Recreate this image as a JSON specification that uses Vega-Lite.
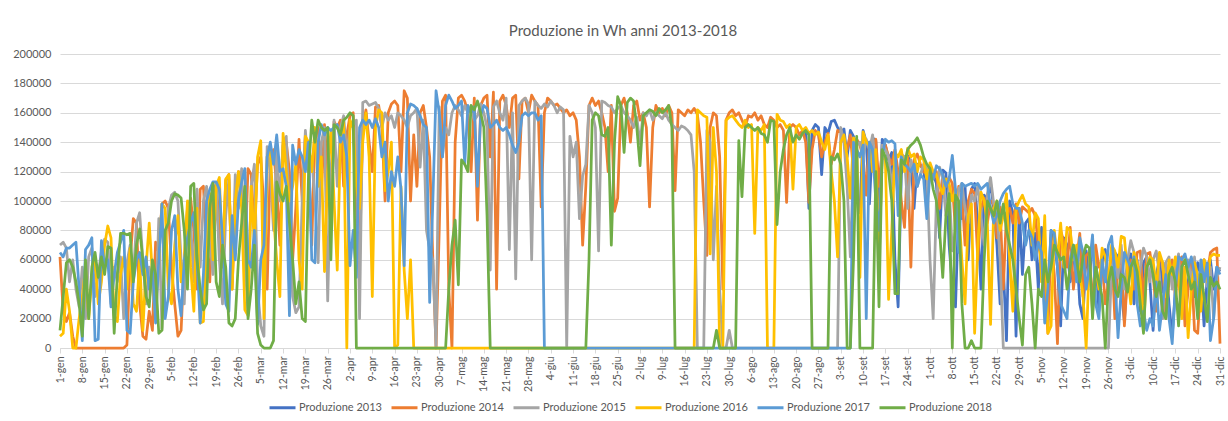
{
"$schema":"https://vega.github.io/schema/vega-lite/v6.json",
"autosize":{"type":"none"},
"width":1160,"height":294,
"padding":{"left":60,"top":54,"right":8,"bottom":73},
"background":"white",
"config":{"view":{"stroke":null},"font":"Lato"},
"title":{"text":"Produzione in Wh anni 2013-2018","anchor":"middle","dx":-17,"offset":9,"fontSize":15,"font":"Lato","fontWeight":"normal","color":"#595959"},
"data":{"values":[
{"t":0,"b":62000,"c":70000,"d":8000,"e":65000,"f":12000},
{"t":1,"b":25000,"c":72000,"d":10000,"e":62000,"f":35000},
{"t":2,"b":18000,"c":68000,"d":40000,"e":68000,"f":58000},
{"t":3,"b":24000,"c":45000,"d":25000,"e":68000,"f":60000},
{"t":4,"b":8000,"c":60000,"d":0,"e":70000,"f":55000},
{"t":5,"b":0,"c":40000,"d":0,"e":72000,"f":45000},
{"t":6,"b":0,"c":28000,"d":20000,"e":40000,"f":30000},
{"t":7,"b":0,"c":55000,"d":35000,"e":5000,"f":8000},
{"t":8,"b":0,"c":20000,"d":55000,"e":67000,"f":60000},
{"t":9,"b":0,"c":62000,"d":20000,"e":70000,"f":20000},
{"t":10,"b":0,"c":68000,"d":48000,"e":75000,"f":55000},
{"t":11,"b":0,"c":35000,"d":60000,"e":5000,"f":65000},
{"t":12,"b":0,"c":50000,"d":30000,"e":6000,"f":48000},
{"t":13,"b":0,"c":66000,"d":45000,"e":73000,"f":62000},
{"t":14,"b":0,"c":74000,"d":70000,"e":55000,"f":50000},
{"t":15,"b":0,"c":72000,"d":83000,"e":60000,"f":69000},
{"t":16,"b":0,"c":30000,"d":75000,"e":28000,"f":68000},
{"t":17,"b":0,"c":55000,"d":22000,"e":50000,"f":10000},
{"t":18,"b":0,"c":45000,"d":18000,"e":65000,"f":50000},
{"t":19,"b":0,"c":62000,"d":50000,"e":72000,"f":78000},
{"t":20,"b":0,"c":20000,"d":62000,"e":80000,"f":78000},
{"t":21,"b":2000,"c":58000,"d":40000,"e":12000,"f":77000},
{"t":22,"b":60000,"c":70000,"d":68000,"e":10000,"f":78000},
{"t":23,"b":88000,"c":48000,"d":30000,"e":45000,"f":45000},
{"t":24,"b":85000,"c":85000,"d":25000,"e":60000,"f":70000},
{"t":25,"b":30000,"c":92000,"d":60000,"e":65000,"f":81000},
{"t":26,"b":8000,"c":60000,"d":12000,"e":50000,"f":60000},
{"t":27,"b":6000,"c":30000,"d":55000,"e":62000,"f":35000},
{"t":28,"b":25000,"c":55000,"d":85000,"e":40000,"f":28000},
{"t":29,"b":12000,"c":40000,"d":50000,"e":55000,"f":60000},
{"t":30,"b":72000,"c":22000,"d":20000,"e":17000,"f":50000},
{"t":31,"b":65000,"c":88000,"d":60000,"e":60000,"f":10000},
{"t":32,"b":98000,"c":13000,"d":98000,"e":98000,"f":12000},
{"t":33,"b":100000,"c":70000,"d":95000,"e":20000,"f":80000},
{"t":34,"b":95000,"c":95000,"d":40000,"e":35000,"f":85000},
{"t":35,"b":55000,"c":104000,"d":30000,"e":80000,"f":100000},
{"t":36,"b":30000,"c":106000,"d":70000,"e":90000,"f":105000},
{"t":37,"b":8000,"c":100000,"d":90000,"e":40000,"f":104000},
{"t":38,"b":12000,"c":60000,"d":45000,"e":22000,"f":102000},
{"t":39,"b":60000,"c":30000,"d":60000,"e":60000,"f":80000},
{"t":40,"b":95000,"c":95000,"d":100000,"e":75000,"f":40000},
{"t":41,"b":102000,"c":85000,"d":55000,"e":85000,"f":110000},
{"t":42,"b":80000,"c":45000,"d":25000,"e":92000,"f":112000},
{"t":43,"b":40000,"c":108000,"d":95000,"e":60000,"f":60000},
{"t":44,"b":108000,"c":55000,"d":17000,"e":17000,"f":40000},
{"t":45,"b":110000,"c":100000,"d":18000,"e":50000,"f":26000},
{"t":46,"b":70000,"c":110000,"d":70000,"e":100000,"f":30000},
{"t":47,"b":45000,"c":75000,"d":105000,"e":108000,"f":95000},
{"t":48,"b":105000,"c":50000,"d":60000,"e":113000,"f":112000},
{"t":49,"b":112000,"c":112000,"d":110000,"e":113000,"f":45000},
{"t":50,"b":85000,"c":60000,"d":116000,"e":108000,"f":35000},
{"t":51,"b":55000,"c":30000,"d":60000,"e":73000,"f":70000},
{"t":52,"b":114000,"c":90000,"d":115000,"e":30000,"f":55000},
{"t":53,"b":118000,"c":115000,"d":118000,"e":25000,"f":17000},
{"t":54,"b":40000,"c":45000,"d":40000,"e":90000,"f":15000},
{"t":55,"b":95000,"c":118000,"d":100000,"e":60000,"f":20000},
{"t":56,"b":120000,"c":95000,"d":120000,"e":100000,"f":60000},
{"t":57,"b":110000,"c":122000,"d":95000,"e":113000,"f":85000},
{"t":58,"b":60000,"c":60000,"d":26000,"e":122000,"f":110000},
{"t":59,"b":122000,"c":24000,"d":22000,"e":60000,"f":20000},
{"t":60,"b":118000,"c":110000,"d":110000,"e":55000,"f":40000},
{"t":61,"b":80000,"c":125000,"d":70000,"e":80000,"f":70000},
{"t":62,"b":125000,"c":40000,"d":130000,"e":16000,"f":10000},
{"t":63,"b":130000,"c":15000,"d":141000,"e":60000,"f":2000},
{"t":64,"b":95000,"c":8000,"d":20000,"e":70000,"f":0},
{"t":65,"b":40000,"c":137000,"d":130000,"e":130000,"f":0},
{"t":66,"b":128000,"c":120000,"d":135000,"e":140000,"f":0},
{"t":67,"b":135000,"c":80000,"d":90000,"e":125000,"f":5000},
{"t":68,"b":110000,"c":135000,"d":60000,"e":145000,"f":113000},
{"t":69,"b":70000,"c":100000,"d":35000,"e":120000,"f":105000},
{"t":70,"b":138000,"c":140000,"d":146000,"e":122000,"f":100000},
{"t":71,"b":140000,"c":144000,"d":120000,"e":110000,"f":110000},
{"t":72,"b":120000,"c":90000,"d":100000,"e":22000,"f":85000},
{"t":73,"b":60000,"c":35000,"d":110000,"e":138000,"f":60000},
{"t":74,"b":95000,"c":24000,"d":125000,"e":125000,"f":30000},
{"t":75,"b":142000,"c":28000,"d":60000,"e":135000,"f":45000},
{"t":76,"b":100000,"c":100000,"d":40000,"e":130000,"f":20000},
{"t":77,"b":145000,"c":148000,"d":144000,"e":120000,"f":18000},
{"t":78,"b":130000,"c":120000,"d":140000,"e":140000,"f":120000},
{"t":79,"b":70000,"c":130000,"d":120000,"e":60000,"f":155000},
{"t":80,"b":148000,"c":100000,"d":150000,"e":58000,"f":140000},
{"t":81,"b":150000,"c":58000,"d":110000,"e":140000,"f":155000},
{"t":82,"b":105000,"c":140000,"d":130000,"e":152000,"f":150000},
{"t":83,"b":152000,"c":150000,"d":52000,"e":145000,"f":148000},
{"t":84,"b":120000,"c":32000,"d":120000,"e":150000,"f":150000},
{"t":85,"b":80000,"c":120000,"d":148000,"e":148000,"f":60000},
{"t":86,"b":154000,"c":155000,"d":100000,"e":150000,"f":152000},
{"t":87,"b":150000,"c":110000,"d":53000,"e":152000,"f":150000},
{"t":88,"b":155000,"c":150000,"d":140000,"e":140000,"f":145000},
{"t":89,"b":110000,"c":158000,"d":155000,"e":145000,"f":155000},
{"t":90,"b":145000,"c":130000,"d":0,"e":130000,"f":157000},
{"t":91,"b":158000,"c":150000,"d":155000,"e":56000,"f":160000},
{"t":92,"b":160000,"c":152000,"d":150000,"e":80000,"f":158000},
{"t":93,"b":95000,"c":155000,"d":110000,"e":48000,"f":0},
{"t":94,"b":60000,"c":20000,"d":95000,"e":150000,"f":0},
{"t":95,"b":150000,"c":167000,"d":140000,"e":155000,"f":0},
{"t":96,"b":162000,"c":168000,"d":160000,"e":152000,"f":0},
{"t":97,"b":140000,"c":165000,"d":130000,"e":155000,"f":0},
{"t":98,"b":120000,"c":166000,"d":35000,"e":150000,"f":0},
{"t":99,"b":164000,"c":167000,"d":150000,"e":156000,"f":0},
{"t":100,"b":165000,"c":163000,"d":162000,"e":150000,"f":0},
{"t":101,"b":150000,"c":150000,"d":160000,"e":130000,"f":0},
{"t":102,"b":100000,"c":160000,"d":107000,"e":140000,"f":0},
{"t":103,"b":160000,"c":155000,"d":120000,"e":100000,"f":0},
{"t":104,"b":166000,"c":158000,"d":140000,"e":120000,"f":0},
{"t":105,"b":168000,"c":150000,"d":0,"e":110000,"f":0},
{"t":106,"b":165000,"c":160000,"d":2000,"e":130000,"f":0},
{"t":107,"b":120000,"c":158000,"d":110000,"e":108000,"f":0},
{"t":108,"b":175000,"c":155000,"d":53000,"e":56000,"f":0},
{"t":109,"b":170000,"c":150000,"d":20000,"e":160000,"f":0},
{"t":110,"b":100000,"c":158000,"d":60000,"e":166000,"f":0},
{"t":111,"b":145000,"c":160000,"d":0,"e":165000,"f":0},
{"t":112,"b":110000,"c":163000,"d":0,"e":163000,"f":0},
{"t":113,"b":160000,"c":123000,"d":0,"e":158000,"f":0},
{"t":114,"b":165000,"c":155000,"d":0,"e":152000,"f":0},
{"t":115,"b":150000,"c":80000,"d":0,"e":150000,"f":0},
{"t":116,"b":130000,"c":67000,"d":0,"e":31000,"f":0},
{"t":117,"b":60000,"c":60000,"d":0,"e":100000,"f":0},
{"t":118,"b":0,"c":0,"d":0,"e":175000,"f":0},
{"t":119,"b":80000,"c":164000,"d":0,"e":160000,"f":0},
{"t":120,"b":168000,"c":130000,"d":0,"e":130000,"f":0},
{"t":121,"b":172000,"c":150000,"d":0,"e":165000,"f":0},
{"t":122,"b":40000,"c":145000,"d":0,"e":172000,"f":40000},
{"t":123,"b":0,"c":160000,"d":0,"e":168000,"f":70000},
{"t":124,"b":140000,"c":165000,"d":0,"e":163000,"f":87000},
{"t":125,"b":170000,"c":162000,"d":0,"e":165000,"f":43000},
{"t":126,"b":172000,"c":158000,"d":0,"e":168000,"f":128000},
{"t":127,"b":168000,"c":165000,"d":0,"e":125000,"f":125000},
{"t":128,"b":160000,"c":160000,"d":0,"e":165000,"f":120000},
{"t":129,"b":120000,"c":162000,"d":0,"e":160000,"f":165000},
{"t":130,"b":170000,"c":155000,"d":0,"e":164000,"f":162000},
{"t":131,"b":87000,"c":158000,"d":0,"e":110000,"f":168000},
{"t":132,"b":165000,"c":166000,"d":0,"e":158000,"f":160000},
{"t":133,"b":170000,"c":160000,"d":0,"e":165000,"f":150000},
{"t":134,"b":172000,"c":150000,"d":0,"e":163000,"f":90000},
{"t":135,"b":130000,"c":53000,"d":0,"e":150000,"f":0},
{"t":136,"b":174000,"c":164000,"d":0,"e":152000,"f":0},
{"t":137,"b":40000,"c":168000,"d":0,"e":155000,"f":0},
{"t":138,"b":168000,"c":160000,"d":0,"e":150000,"f":0},
{"t":139,"b":172000,"c":155000,"d":0,"e":148000,"f":0},
{"t":140,"b":165000,"c":170000,"d":0,"e":150000,"f":0},
{"t":141,"b":150000,"c":67000,"d":0,"e":145000,"f":0},
{"t":142,"b":170000,"c":160000,"d":0,"e":138000,"f":0},
{"t":143,"b":172000,"c":47000,"d":0,"e":133000,"f":0},
{"t":144,"b":115000,"c":165000,"d":0,"e":140000,"f":0},
{"t":145,"b":168000,"c":168000,"d":0,"e":158000,"f":0},
{"t":146,"b":170000,"c":170000,"d":0,"e":160000,"f":0},
{"t":147,"b":160000,"c":166000,"d":0,"e":158000,"f":0},
{"t":148,"b":172000,"c":60000,"d":0,"e":160000,"f":0},
{"t":149,"b":168000,"c":168000,"d":0,"e":160000,"f":0},
{"t":150,"b":165000,"c":165000,"d":0,"e":155000,"f":0},
{"t":151,"b":96000,"c":163000,"d":0,"e":158000,"f":0},
{"t":152,"b":160000,"c":166000,"d":0,"e":0,"f":0},
{"t":153,"b":170000,"c":164000,"d":0,"e":0,"f":0},
{"t":154,"b":168000,"c":168000,"d":0,"e":0,"f":0},
{"t":155,"b":165000,"c":165000,"d":0,"e":0,"f":0},
{"t":156,"b":166000,"c":160000,"d":0,"e":0,"f":0},
{"t":157,"b":163000,"c":164000,"d":0,"e":0,"f":0},
{"t":158,"b":160000,"c":162000,"d":0,"e":0,"f":0},
{"t":159,"b":162000,"c":0,"d":0,"e":0,"f":0},
{"t":160,"b":158000,"c":144000,"d":0,"e":0,"f":0},
{"t":161,"b":160000,"c":130000,"d":0,"e":0,"f":0},
{"t":162,"b":155000,"c":140000,"d":0,"e":0,"f":0},
{"t":163,"b":130000,"c":88000,"d":0,"e":0,"f":0},
{"t":164,"b":70000,"c":117000,"d":0,"e":0,"f":0},
{"t":165,"b":110000,"c":125000,"d":0,"e":0,"f":0},
{"t":166,"b":165000,"c":165000,"d":0,"e":0,"f":60000},
{"t":167,"b":170000,"c":160000,"d":0,"e":0,"f":155000},
{"t":168,"b":165000,"c":150000,"d":0,"e":0,"f":160000},
{"t":169,"b":168000,"c":66000,"d":0,"e":0,"f":158000},
{"t":170,"b":160000,"c":168000,"d":0,"e":0,"f":145000},
{"t":171,"b":150000,"c":167000,"d":0,"e":0,"f":144000},
{"t":172,"b":120000,"c":165000,"d":0,"e":0,"f":150000},
{"t":173,"b":165000,"c":164000,"d":0,"e":0,"f":70000},
{"t":174,"b":93000,"c":160000,"d":0,"e":0,"f":140000},
{"t":175,"b":102000,"c":163000,"d":0,"e":0,"f":171000},
{"t":176,"b":165000,"c":165000,"d":0,"e":0,"f":165000},
{"t":177,"b":170000,"c":160000,"d":0,"e":0,"f":133000},
{"t":178,"b":160000,"c":158000,"d":0,"e":0,"f":167000},
{"t":179,"b":140000,"c":155000,"d":0,"e":0,"f":170000},
{"t":180,"b":165000,"c":150000,"d":0,"e":0,"f":168000},
{"t":181,"b":168000,"c":157000,"d":0,"e":0,"f":150000},
{"t":182,"b":155000,"c":139000,"d":0,"e":0,"f":124000},
{"t":183,"b":160000,"c":160000,"d":0,"e":0,"f":158000},
{"t":184,"b":150000,"c":158000,"d":0,"e":0,"f":160000},
{"t":185,"b":96000,"c":162000,"d":0,"e":0,"f":162000},
{"t":186,"b":150000,"c":155000,"d":0,"e":0,"f":161000},
{"t":187,"b":165000,"c":160000,"d":0,"e":0,"f":158000},
{"t":188,"b":160000,"c":158000,"d":0,"e":0,"f":163000},
{"t":189,"b":163000,"c":156000,"d":0,"e":0,"f":160000},
{"t":190,"b":158000,"c":160000,"d":0,"e":0,"f":162000},
{"t":191,"b":165000,"c":155000,"d":0,"e":0,"f":165000},
{"t":192,"b":160000,"c":152000,"d":0,"e":0,"f":150000},
{"t":193,"b":107000,"c":150000,"d":0,"e":0,"f":0},
{"t":194,"b":162000,"c":148000,"d":0,"e":0,"f":0},
{"t":195,"b":160000,"c":151000,"d":0,"e":0,"f":0},
{"t":196,"b":158000,"c":150000,"d":0,"e":0,"f":0},
{"t":197,"b":162000,"c":148000,"d":0,"e":0,"f":0},
{"t":198,"b":160000,"c":145000,"d":0,"e":0,"f":0},
{"t":199,"b":163000,"c":120000,"d":0,"e":0,"f":0},
{"t":200,"b":159000,"c":0,"d":162000,"e":0,"f":0},
{"t":201,"b":140000,"c":0,"d":160000,"e":0,"f":0},
{"t":202,"b":100000,"c":0,"d":158000,"e":0,"f":0},
{"t":203,"b":63000,"c":148000,"d":157000,"e":0,"f":0},
{"t":204,"b":150000,"c":140000,"d":64000,"e":0,"f":0},
{"t":205,"b":160000,"c":60000,"d":150000,"e":0,"f":0},
{"t":206,"b":158000,"c":110000,"d":120000,"e":0,"f":12000},
{"t":207,"b":130000,"c":40000,"d":0,"e":0,"f":0},
{"t":208,"b":40000,"c":0,"d":0,"e":0,"f":0},
{"t":209,"b":155000,"c":0,"d":155000,"e":0,"f":0},
{"t":210,"b":160000,"c":12000,"d":157000,"e":0,"f":0},
{"t":211,"b":162000,"c":0,"d":158000,"e":0,"f":0},
{"t":212,"b":158000,"c":0,"d":155000,"e":0,"f":0},
{"t":213,"b":160000,"c":0,"d":152000,"e":0,"f":141000},
{"t":214,"b":155000,"c":0,"d":150000,"e":0,"f":103000},
{"t":215,"b":150000,"c":0,"d":155000,"e":0,"f":150000},
{"t":216,"b":158000,"c":0,"d":150000,"e":0,"f":152000},
{"t":217,"b":157000,"c":0,"d":152000,"e":0,"f":150000},
{"t":218,"b":160000,"c":0,"d":78000,"e":0,"f":148000},
{"t":219,"b":155000,"c":0,"d":150000,"e":0,"f":150000},
{"t":220,"b":158000,"c":0,"d":148000,"e":0,"f":146000},
{"t":221,"b":152000,"c":0,"d":152000,"e":0,"f":145000},
{"t":222,"b":150000,"c":0,"d":0,"e":0,"f":140000},
{"t":223,"b":157000,"c":0,"d":0,"e":0,"f":155000},
{"t":224,"b":155000,"c":0,"d":0,"e":0,"f":154000},
{"t":225,"b":150000,"c":0,"d":159000,"e":0,"f":84000},
{"t":226,"b":152000,"c":0,"d":155000,"e":0,"f":120000},
{"t":227,"b":148000,"c":0,"d":154000,"e":0,"f":135000},
{"t":228,"b":99000,"c":0,"d":150000,"e":0,"f":145000},
{"t":229,"b":150000,"c":0,"d":152000,"e":0,"f":150000},
{"t":230,"b":152000,"c":0,"d":108000,"e":0,"f":140000},
{"t":231,"b":150000,"c":0,"d":150000,"e":0,"f":145000},
{"t":232,"b":145000,"c":0,"d":152000,"e":0,"f":142000},
{"t":233,"b":148000,"c":0,"d":148000,"e":0,"f":146000},
{"t":234,"a":150000,"b":140000,"c":0,"d":150000,"e":0,"f":148000},
{"t":235,"a":95000,"b":99000,"c":0,"d":146000,"e":0,"f":145000},
{"t":236,"a":148000,"b":135000,"c":0,"d":148000,"e":0,"f":0},
{"t":237,"a":152000,"b":148000,"c":0,"d":145000,"e":0,"f":0},
{"t":238,"a":150000,"b":145000,"c":0,"d":147000,"e":0,"f":0},
{"t":239,"a":118000,"b":130000,"c":0,"d":140000,"e":0,"f":0},
{"t":240,"a":150000,"b":140000,"c":0,"d":135000,"e":0,"f":0},
{"t":241,"a":146000,"b":146000,"c":0,"d":145000,"e":0,"f":0},
{"t":242,"a":154000,"b":125000,"c":0,"d":120000,"e":0,"f":130000},
{"t":243,"a":155000,"b":135000,"c":0,"d":100000,"e":0,"f":128000},
{"t":244,"a":150000,"b":148000,"c":0,"d":62000,"e":0,"f":132000},
{"t":245,"a":147000,"b":147000,"c":150000,"d":140000,"e":0,"f":125000},
{"t":246,"a":149000,"b":140000,"c":140000,"d":145000,"e":0,"f":100000},
{"t":247,"a":130000,"b":135000,"c":110000,"d":130000,"e":0,"f":0},
{"t":248,"a":148000,"b":145000,"c":62000,"d":102000,"e":0,"f":0},
{"t":249,"a":144000,"b":120000,"c":125000,"d":143000,"e":140000,"f":60000},
{"t":250,"a":105000,"b":142000,"c":138000,"d":140000,"e":135000,"f":144000},
{"t":251,"a":92000,"b":138000,"c":140000,"d":48000,"e":130000,"f":0},
{"t":252,"a":148000,"b":130000,"c":130000,"d":147000,"e":138000,"f":0},
{"t":253,"a":140000,"b":104000,"c":142000,"d":140000,"e":20000,"f":0},
{"t":254,"a":98000,"b":140000,"c":135000,"d":138000,"e":140000,"f":0},
{"t":255,"a":143000,"b":138000,"c":145000,"d":120000,"e":135000,"f":0},
{"t":256,"a":141000,"b":142000,"c":120000,"d":135000,"e":100000,"f":120000},
{"t":257,"a":88000,"b":110000,"c":53000,"d":60000,"e":80000,"f":28000},
{"t":258,"a":142000,"b":135000,"c":138000,"d":130000,"e":130000,"f":135000},
{"t":259,"a":138000,"b":138000,"c":135000,"d":128000,"e":142000,"f":130000},
{"t":260,"a":128000,"b":130000,"c":130000,"d":33000,"e":140000,"f":120000},
{"t":261,"a":133000,"b":125000,"c":110000,"d":80000,"e":141000,"f":100000},
{"t":262,"a":60000,"b":135000,"c":128000,"d":133000,"e":139000,"f":37000},
{"t":263,"a":28000,"b":120000,"c":100000,"d":130000,"e":90000,"f":37000},
{"t":264,"a":118000,"b":100000,"c":132000,"d":135000,"e":130000,"f":128000},
{"t":265,"a":130000,"b":82000,"c":130000,"d":120000,"e":125000,"f":125000},
{"t":266,"a":131000,"b":130000,"c":95000,"d":136000,"e":123000,"f":135000},
{"t":267,"a":126000,"b":55000,"c":128000,"d":130000,"e":120000,"f":138000},
{"t":268,"a":95000,"b":128000,"c":120000,"d":132000,"e":125000,"f":140000},
{"t":269,"a":125000,"b":132000,"c":110000,"d":120000,"e":110000,"f":143000},
{"t":270,"a":124000,"b":125000,"c":118000,"d":130000,"e":118000,"f":138000},
{"t":271,"a":122000,"b":120000,"c":125000,"d":128000,"e":115000,"f":130000},
{"t":272,"a":100000,"b":118000,"c":122000,"d":115000,"e":88000,"f":125000},
{"t":273,"a":120000,"b":122000,"c":60000,"d":126000,"e":120000,"f":122000},
{"t":274,"a":118000,"b":115000,"c":20000,"d":120000,"e":115000,"f":108000},
{"t":275,"a":112000,"b":120000,"c":100000,"d":118000,"e":124000,"f":100000},
{"t":276,"a":75000,"b":95000,"c":123000,"d":110000,"e":122000,"f":80000},
{"t":277,"a":121000,"b":118000,"c":115000,"d":105000,"e":118000,"f":48000},
{"t":278,"a":119000,"b":110000,"c":90000,"d":115000,"e":110000,"f":90000},
{"t":279,"a":70000,"b":116000,"c":110000,"d":112000,"e":115000,"f":105000},
{"t":280,"a":42000,"b":112000,"c":66000,"d":100000,"e":131000,"f":0},
{"t":281,"a":28000,"b":80000,"c":80000,"d":108000,"e":108000,"f":104000},
{"t":282,"a":95000,"b":110000,"c":108000,"d":95000,"e":65000,"f":100000},
{"t":283,"a":88000,"b":106000,"c":112000,"d":60000,"e":112000,"f":30000},
{"t":284,"a":110000,"b":70000,"c":95000,"d":30000,"e":110000,"f":0},
{"t":285,"a":60000,"b":100000,"c":85000,"d":90000,"e":111000,"f":0},
{"t":286,"a":108000,"b":108000,"c":104000,"d":98000,"e":112000,"f":5000},
{"t":287,"a":112000,"b":105000,"c":100000,"d":10000,"e":110000,"f":0},
{"t":288,"a":85000,"b":60000,"c":110000,"d":70000,"e":112000,"f":0},
{"t":289,"a":40000,"b":95000,"c":90000,"d":106000,"e":108000,"f":0},
{"t":290,"a":104000,"b":102000,"c":70000,"d":100000,"e":110000,"f":60000},
{"t":291,"a":100000,"b":85000,"c":105000,"d":85000,"e":112000,"f":100000},
{"t":292,"a":112000,"b":100000,"c":116000,"d":16000,"e":95000,"f":95000},
{"t":293,"a":95000,"b":98000,"c":98000,"d":95000,"e":85000,"f":90000},
{"t":294,"a":70000,"b":75000,"c":95000,"d":100000,"e":90000,"f":100000},
{"t":295,"a":30000,"b":96000,"c":60000,"d":80000,"e":100000,"f":85000},
{"t":296,"a":55000,"b":40000,"c":0,"d":90000,"e":105000,"f":98000},
{"t":297,"a":5000,"b":92000,"c":0,"d":105000,"e":108000,"f":80000},
{"t":298,"a":100000,"b":95000,"c":0,"d":60000,"e":110000,"f":70000},
{"t":299,"a":92000,"b":85000,"c":0,"d":25000,"e":98000,"f":60000},
{"t":300,"a":8000,"b":98000,"c":0,"d":95000,"e":95000,"f":40000},
{"t":301,"a":95000,"b":85000,"c":0,"d":100000,"e":95000,"f":20000},
{"t":302,"a":50000,"b":96000,"c":0,"d":104000,"e":85000,"f":2000},
{"t":303,"a":85000,"b":94000,"c":0,"d":98000,"e":70000,"f":50000},
{"t":304,"a":88000,"b":92000,"c":0,"d":96000,"e":80000,"f":55000},
{"t":305,"a":60000,"b":95000,"c":0,"d":70000,"e":75000,"f":30000},
{"t":306,"a":78000,"b":90000,"c":0,"d":92000,"e":60000,"f":0},
{"t":307,"a":40000,"b":70000,"c":0,"d":88000,"e":72000,"f":40000},
{"t":308,"a":82000,"b":60000,"c":0,"d":45000,"e":65000,"f":35000},
{"t":309,"a":22000,"b":45000,"c":0,"d":90000,"e":17000,"f":60000},
{"t":310,"a":35000,"b":10000,"c":0,"d":10000,"e":40000,"f":45000},
{"t":311,"a":80000,"b":75000,"c":0,"d":15000,"e":80000,"f":55000},
{"t":312,"a":72000,"b":50000,"c":0,"d":80000,"e":78000,"f":70000},
{"t":313,"a":55000,"b":3000,"c":0,"d":60000,"e":55000,"f":65000},
{"t":314,"a":15000,"b":80000,"c":0,"d":85000,"e":30000,"f":60000},
{"t":315,"a":75000,"b":72000,"c":0,"d":55000,"e":25000,"f":62000},
{"t":316,"a":70000,"b":55000,"c":0,"d":82000,"e":20000,"f":40000},
{"t":317,"a":45000,"b":82000,"c":0,"d":80000,"e":60000,"f":55000},
{"t":318,"a":62000,"b":40000,"c":0,"d":60000,"e":70000,"f":70000},
{"t":319,"a":68000,"b":60000,"c":0,"d":70000,"e":45000,"f":60000},
{"t":320,"a":30000,"b":78000,"c":0,"d":50000,"e":75000,"f":45000},
{"t":321,"a":20000,"b":35000,"c":0,"d":36000,"e":65000,"f":62000},
{"t":322,"a":66000,"b":63000,"c":0,"d":0,"e":40000,"f":70000},
{"t":323,"a":48000,"b":65000,"c":0,"d":60000,"e":55000,"f":68000},
{"t":324,"a":70000,"b":25000,"c":0,"d":72000,"e":77000,"f":20000},
{"t":325,"a":64000,"b":70000,"c":0,"d":55000,"e":30000,"f":55000},
{"t":326,"a":25000,"b":55000,"c":0,"d":40000,"e":20000,"f":45000},
{"t":327,"a":58000,"b":60000,"c":0,"d":68000,"e":60000,"f":35000},
{"t":328,"a":67000,"b":30000,"c":0,"d":62000,"e":45000,"f":0},
{"t":329,"a":35000,"b":45000,"c":0,"d":45000,"e":70000,"f":45000},
{"t":330,"a":60000,"b":68000,"c":55000,"d":70000,"e":76000,"f":55000},
{"t":331,"a":65000,"b":20000,"c":62000,"d":66000,"e":50000,"f":40000},
{"t":332,"a":62000,"b":55000,"c":48000,"d":55000,"e":7000,"f":35000},
{"t":333,"a":40000,"b":62000,"c":70000,"d":76000,"e":40000,"f":50000},
{"t":334,"a":18000,"b":15000,"c":40000,"d":75000,"e":65000,"f":48000},
{"t":335,"a":55000,"b":50000,"c":60000,"d":50000,"e":60000,"f":38000},
{"t":336,"a":64000,"b":60000,"c":73000,"d":30000,"e":55000,"f":55000},
{"t":337,"a":30000,"b":40000,"c":65000,"d":65000,"e":62000,"f":60000},
{"t":338,"a":60000,"b":65000,"c":30000,"d":58000,"e":30000,"f":52000},
{"t":339,"a":25000,"b":66000,"c":55000,"d":45000,"e":15000,"f":30000},
{"t":340,"a":58000,"b":30000,"c":68000,"d":12000,"e":25000,"f":10000},
{"t":341,"a":62000,"b":64000,"c":62000,"d":55000,"e":12000,"f":55000},
{"t":342,"a":45000,"b":65000,"c":45000,"d":62000,"e":20000,"f":60000},
{"t":343,"a":12000,"b":50000,"c":60000,"d":60000,"e":15000,"f":50000},
{"t":344,"a":50000,"b":25000,"c":66000,"d":40000,"e":45000,"f":35000},
{"t":345,"a":60000,"b":62000,"c":50000,"d":65000,"e":12000,"f":45000},
{"t":346,"a":38000,"b":58000,"c":20000,"d":58000,"e":30000,"f":25000},
{"t":347,"a":58000,"b":20000,"c":58000,"d":35000,"e":50000,"f":20000},
{"t":348,"a":30000,"b":45000,"c":62000,"d":60000,"e":20000,"f":50000},
{"t":349,"a":8000,"b":60000,"c":40000,"d":50000,"e":3000,"f":55000},
{"t":350,"a":40000,"b":35000,"c":55000,"d":62000,"e":40000,"f":45000},
{"t":351,"a":62000,"b":55000,"c":64000,"d":48000,"e":62000,"f":15000},
{"t":352,"a":55000,"b":62000,"c":25000,"d":20000,"e":60000,"f":55000},
{"t":353,"a":20000,"b":15000,"c":50000,"d":55000,"e":64000,"f":60000},
{"t":354,"a":45000,"b":40000,"c":60000,"d":7000,"e":55000,"f":50000},
{"t":355,"a":60000,"b":58000,"c":45000,"d":40000,"e":62000,"f":40000},
{"t":356,"a":35000,"b":12000,"c":62000,"d":58000,"e":50000,"f":45000},
{"t":357,"a":58000,"b":10000,"c":30000,"d":50000,"e":30000,"f":20000},
{"t":358,"a":50000,"b":45000,"c":58000,"d":25000,"e":60000,"f":50000},
{"t":359,"a":15000,"b":60000,"c":60000,"d":60000,"e":45000,"f":35000},
{"t":360,"a":48000,"b":50000,"c":42000,"d":45000,"e":58000,"f":18000},
{"t":361,"a":60000,"b":65000,"c":55000,"d":62000,"e":5000,"f":48000},
{"t":362,"a":40000,"b":67000,"c":20000,"d":64000,"e":20000,"f":42000},
{"t":363,"a":55000,"b":68000,"c":48000,"d":63000,"e":55000,"f":45000},
{"t":364,"a":52000,"b":3000,"c":55000,"d":63000,"e":50000,"f":40000}
]},
"transform":[
{"fold":["a","b","c","d","e","f"],"as":["serie","wh"]},
{"filter":"isValid(datum.wh)"}
],
"encoding":{
"x":{"field":"t","type":"quantitative","scale":{"domain":[0,364],"nice":false,"zero":false},
"axis":{"title":null,"grid":false,"values":[0,7,14,21,28,35,42,49,56,63,70,77,84,91,98,105,112,119,126,133,140,147,154,161,168,175,182,189,196,203,210,217,224,231,238,245,252,259,266,273,280,287,294,301,308,315,322,329,336,343,350,357,364],
"labelExpr":"date(datetime(2013,0,1+datum.value)) + '-' + ['gen','feb','mar','apr','mag','giu','lug','ago','set','ott','nov','dic'][month(datetime(2013,0,1+datum.value))]",
"labelAngle":-90,"labelAlign":"right","labelBaseline":"middle","labelFontSize":10.5,"labelColor":"#595959","labelPadding":3,"labelOverlap":false,"labelFlush":false,"domainColor":"#D9D9D9","tickColor":"#D9D9D9","tickSize":5}},
"y":{"field":"wh","type":"quantitative","scale":{"domain":[0,200000],"nice":false},
"axis":{"title":null,"values":[0,20000,40000,60000,80000,100000,120000,140000,160000,180000,200000],"format":"d","domain":false,"ticks":false,"gridColor":"#D9D9D9","labelColor":"#595959","labelFontSize":11,"labelPadding":9}},
"color":{"field":"serie","type":"nominal","scale":{"domain":["a","b","c","d","e","f"],"range":["#4472C4","#ED7D31","#A5A5A5","#FFC000","#5B9BD5","#70AD47"]},
"legend":{"title":null,"orient":"none","legendX":208,"legendY":339,"direction":"horizontal","symbolType":"stroke","symbolSize":676,"symbolStrokeWidth":3,"labelFontSize":11,"labelColor":"#595959","labelOffset":2,"columnPadding":3,
"labelExpr":"'Produzione ' + (2013 + indexof(['a','b','c','d','e','f'], datum.label))"}}
},
"layer":[
{"transform":[{"filter":"datum.serie==='a'"}],"mark":{"type":"line","strokeWidth":2.75,"strokeJoin":"round"}},
{"transform":[{"filter":"datum.serie==='b'"}],"mark":{"type":"line","strokeWidth":2.75,"strokeJoin":"round"}},
{"transform":[{"filter":"datum.serie==='c'"}],"mark":{"type":"line","strokeWidth":2.75,"strokeJoin":"round"}},
{"transform":[{"filter":"datum.serie==='d'"}],"mark":{"type":"line","strokeWidth":2.75,"strokeJoin":"round"}},
{"transform":[{"filter":"datum.serie==='e'"}],"mark":{"type":"line","strokeWidth":2.75,"strokeJoin":"round"}},
{"transform":[{"filter":"datum.serie==='f'"}],"mark":{"type":"line","strokeWidth":2.75,"strokeJoin":"round"}}
]
}
